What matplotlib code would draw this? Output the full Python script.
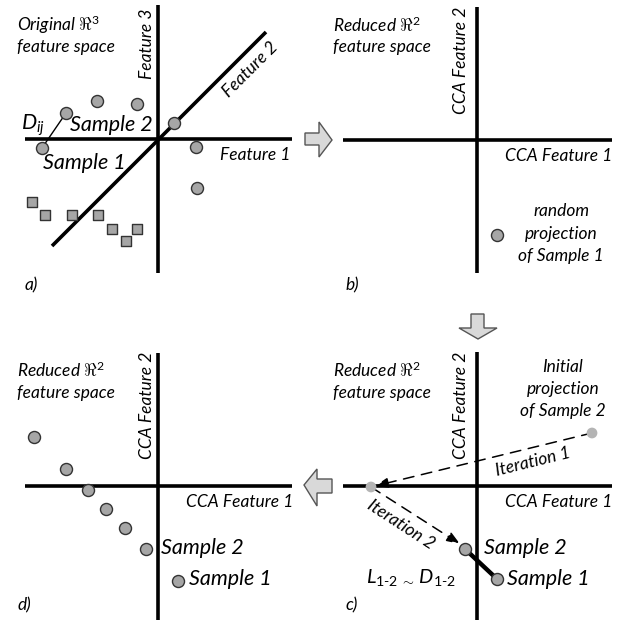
import matplotlib
matplotlib.use("Agg")
import matplotlib.pyplot as plt
from matplotlib.patches import Polygon
import numpy as np

plt.rcParams['font.family'] = ['Lato', 'DejaVu Sans']
plt.rcParams['mathtext.fontset'] = 'custom'
plt.rcParams['mathtext.it'] = 'Lato:italic'
plt.rcParams['mathtext.rm'] = 'Lato'

# ---- data (diagram coordinates, pixel-like units) ----
# panel a
a_circles_x = [42, 66, 97, 137, 174, 196, 197]
a_circles_y = [148, 113, 101, 104, 123, 147, 188]
a_squares_x = [32, 45, 72, 98, 112, 137, 126]
a_squares_y = [202, 215, 215, 215, 229, 229, 241]
# panel b
b_point_x = [497]
b_point_y = [235]
# panel d
d_points_x = [34, 66, 88, 106, 125, 146, 178]
d_points_y = [437, 469, 490, 509, 528, 549, 581]
# panel c
c_initial = (592, 433)
c_iter1 = (371, 487)
c_sample2 = (465, 549)
c_sample1 = (497, 579)

fig = plt.figure(figsize=(6.25, 6.2), dpi=100)
ax = fig.add_axes([0, 0, 1, 1])
ax.set_xlim(0, 625)
ax.set_ylim(620, 0)
ax.axis('off')

AX_LW = 2.6
PT_FC = '#a6a6a6'
PT_EC = '#333333'

def axes_cross(xc, yc, x0, x1, y0, y1):
    ax.plot([x0, x1], [yc, yc], color='black', lw=AX_LW, solid_capstyle='butt')
    ax.plot([xc, xc], [y0, y1], color='black', lw=AX_LW, solid_capstyle='butt')

fs = 12.5
fs_big = 15.5

# ---------- panel a ----------
axes_cross(158, 139, 25, 292, 5, 273)
ax.plot([52, 266], [246, 32], color='black', lw=AX_LW, solid_capstyle='butt')
ax.plot([a_circles_x[0], a_circles_x[1]], [a_circles_y[0], a_circles_y[1]], color='black', lw=1.0)
ax.scatter(a_circles_x, a_circles_y, s=75, c=PT_FC, edgecolors=PT_EC, linewidths=1.0, zorder=5)
ax.scatter(a_squares_x, a_squares_y, s=55, marker='s', c=PT_FC, edgecolors=PT_EC, linewidths=1.0, zorder=5)
ax.text(17, 25, r'Original $\Re^3$', fontsize=fs, style='italic', va='center', ha='left')
ax.text(17, 47, 'feature space', fontsize=fs, style='italic', va='center', ha='left')
ax.text(147, 44, 'Feature 3', fontsize=fs, style='italic', rotation=90, va='center', ha='center')
ax.text(250, 70, 'Feature 2', fontsize=fs, style='italic', rotation=45, va='center', ha='center')
ax.text(291, 155, 'Feature 1', fontsize=fs, style='italic', va='center', ha='right')
ax.text(21, 125, '$D_{ij}$', fontsize=fs_big, va='center', ha='left')
ax.text(70, 125, 'Sample 2', fontsize=fs_big, style='italic', va='center', ha='left')
ax.text(43, 163, 'Sample 1', fontsize=fs_big, style='italic', va='center', ha='left')
ax.text(25, 285, 'a)', fontsize=fs, style='italic', va='center', ha='left')

# ---------- panel b ----------
axes_cross(477, 140, 343, 612, 7, 273)
ax.scatter(b_point_x, b_point_y, s=75, c=PT_FC, edgecolors=PT_EC, linewidths=1.0, zorder=5)
ax.text(333, 25, r'Reduced $\Re^2$', fontsize=fs, style='italic', va='center', ha='left')
ax.text(333, 47, 'feature space', fontsize=fs, style='italic', va='center', ha='left')
ax.text(461, 60, 'CCA Feature 2', fontsize=fs, style='italic', rotation=90, va='center', ha='center')
ax.text(612, 156, 'CCA Feature 1', fontsize=fs, style='italic', va='center', ha='right')
ax.text(561, 211, 'random', fontsize=fs, style='italic', va='center', ha='center')
ax.text(561, 234, 'projection', fontsize=fs, style='italic', va='center', ha='center')
ax.text(561, 256, 'of Sample 1', fontsize=fs, style='italic', va='center', ha='center')
ax.text(345, 285, 'b)', fontsize=fs, style='italic', va='center', ha='left')

# ---------- panel d ----------
axes_cross(158, 486, 25, 292, 353, 620)
ax.scatter(d_points_x, d_points_y, s=75, c=PT_FC, edgecolors=PT_EC, linewidths=1.0, zorder=5)
ax.text(17, 370, r'Reduced $\Re^2$', fontsize=fs, style='italic', va='center', ha='left')
ax.text(17, 393, 'feature space', fontsize=fs, style='italic', va='center', ha='left')
ax.text(147, 405, 'CCA Feature 2', fontsize=fs, style='italic', rotation=90, va='center', ha='center')
ax.text(293, 502, 'CCA Feature 1', fontsize=fs, style='italic', va='center', ha='right')
ax.text(161, 548, 'Sample 2', fontsize=fs_big, style='italic', va='center', ha='left')
ax.text(189, 579, 'Sample 1', fontsize=fs_big, style='italic', va='center', ha='left')
ax.text(18, 605, 'd)', fontsize=fs, style='italic', va='center', ha='left')

# ---------- panel c ----------
axes_cross(477, 486, 343, 612, 352, 620)
ax.annotate('', xy=(c_iter1[0] + 4, c_iter1[1] - 1), xytext=c_initial,
            arrowprops=dict(arrowstyle='-|>,head_length=0.8,head_width=0.3', color='black',
                            lw=1.1, linestyle=(0, (7, 5)), shrinkA=0, shrinkB=0))
ax.annotate('', xy=(c_sample2[0] - 5, c_sample2[1] - 5), xytext=c_iter1,
            arrowprops=dict(arrowstyle='-|>,head_length=0.8,head_width=0.3', color='black',
                            lw=1.1, linestyle=(0, (7, 5)), shrinkA=0, shrinkB=0))
ax.plot([c_sample2[0], c_sample1[0]], [c_sample2[1], c_sample1[1]], color='black', lw=3.2, zorder=4)
ax.scatter([c_initial[0], c_iter1[0]], [c_initial[1], c_iter1[1]], s=60, c='#b4b4b4',
           edgecolors='none', zorder=5)
ax.scatter([c_sample2[0], c_sample1[0]], [c_sample2[1], c_sample1[1]], s=75, c=PT_FC,
           edgecolors=PT_EC, linewidths=1.0, zorder=5)
ax.text(333, 370, r'Reduced $\Re^2$', fontsize=fs, style='italic', va='center', ha='left')
ax.text(333, 393, 'feature space', fontsize=fs, style='italic', va='center', ha='left')
ax.text(461, 405, 'CCA Feature 2', fontsize=fs, style='italic', rotation=90, va='center', ha='center')
ax.text(612, 502, 'CCA Feature 1', fontsize=fs, style='italic', va='center', ha='right')
ax.text(563, 367, 'Initial', fontsize=fs, style='italic', va='center', ha='center')
ax.text(563, 389, 'projection', fontsize=fs, style='italic', va='center', ha='center')
ax.text(563, 411, 'of Sample 2', fontsize=fs, style='italic', va='center', ha='center')
ax.text(533, 462, 'Iteration 1', fontsize=fs, style='italic', rotation=14, va='center', ha='center')
ax.text(401, 525, 'Iteration 2', fontsize=fs, style='italic', rotation=-33, va='center', ha='center')
ax.text(484, 548, 'Sample 2', fontsize=fs_big, style='italic', va='center', ha='left')
ax.text(507, 579, 'Sample 1', fontsize=fs_big, style='italic', va='center', ha='left')
ax.text(456, 577,
        r'$L_{\mathit{1}\text{-}\mathit{2}}\,_{\sim}\,D_{\mathit{1}\text{-}\mathit{2}}$',
        fontsize=14.5, va='center', ha='right')
ax.text(345, 605, 'c)', fontsize=fs, style='italic', va='center', ha='left')

# ---------- block arrows ----------
ARR_FC = '#d9d9d9'
ARR_EC = '#555555'
right_arrow = [(305, 133), (319, 133), (319, 122), (332, 140), (319, 157), (319, 145), (305, 145)]
down_arrow = [(471, 314), (484, 314), (484, 328), (497, 328), (478, 339), (459, 328), (471, 328)]
left_arrow = [(332, 479), (317, 479), (317, 469), (304, 485), (317, 506), (317, 493), (332, 493)]
for pts in (right_arrow, down_arrow, left_arrow):
    ax.add_patch(Polygon(pts, closed=True, facecolor=ARR_FC, edgecolor=ARR_EC, lw=1.0, joinstyle='miter'))

fig.savefig('out.png', dpi=100)
